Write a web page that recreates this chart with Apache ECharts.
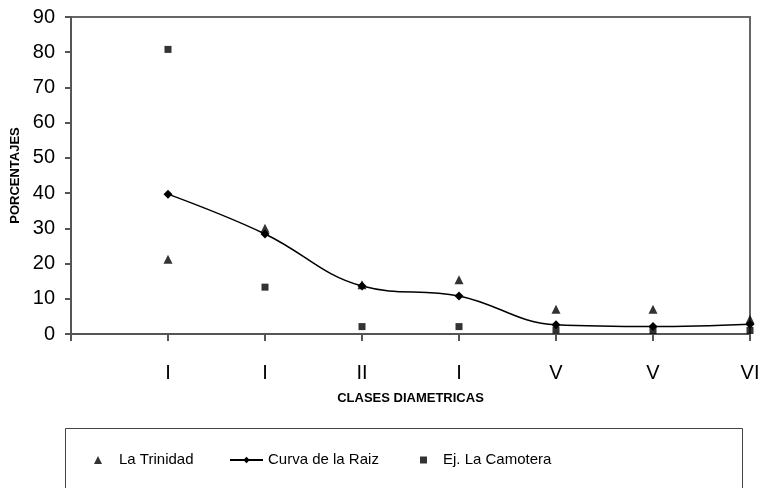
<!DOCTYPE html>
<html>
<head>
<meta charset="utf-8">
<script src="https://cdn.jsdelivr.net/npm/echarts@6/dist/echarts.min.js"></script>
<style>
  html, body { margin: 0; padding: 0; background: #fff; }
  #chart { width: 759px; height: 488px; }
</style>
</head>
<body>
<div id="chart"></div>
<script>
// clases diametricas (etiquetas truncadas como en el original)
const clases = ["I", "I", "II", "I", "V", "V", "VI"];
const trinidad = [21.2, 30.0, 14.0, 15.4, 7.0, 7.0, 4.2];
const curvaRaiz = [39.7, 28.4, 13.6, 10.8, 2.6, 2.1, 2.8];
const camotera = [80.8, 13.3, 2.1, 2.1, 1.1, 1.0, 1.0];
const yTicks = [0, 10, 20, 30, 40, 50, 60, 70, 80, 90];

const font = "'Liberation Sans', Arial, sans-serif";

// empty leading slot so the first class sits one step in from the y axis
const cats = [""].concat(clases);
const pad = arr => [null].concat(arr);

function legendItem(name, left, w, h, textPad) {
  return {
    data: [name],
    left: left,
    top: 452,
    padding: 0,
    itemWidth: w,
    itemHeight: h,
    selectedMode: false,
    textStyle: {
      fontFamily: font, fontSize: 15, color: "#000",
      lineHeight: 16, padding: [0, 0, 0, textPad]
    }
  };
}

const chart = echarts.init(document.getElementById("chart"));
chart.setOption({
  animation: false,
  backgroundColor: "#fff",
  grid: {
    left: 71,
    right: 9,
    top: 17,
    bottom: 154,
    outerBoundsMode: "none",
    containLabel: false,
    show: true,
    borderColor: "#666",
    borderWidth: 2
  },
  graphic: [{
    type: "rect",
    left: 63,
    top: 426,
    shape: { width: 677, height: 80 },
    style: { fill: "none", stroke: "#444", lineWidth: 1 },
    silent: true
  }],
  legend: [
    legendItem("La Trinidad", 94, 8, 8, 12),
    legendItem("Curva de la Raiz", 229, 33, 8, 0),
    legendItem("Ej. La Camotera", 420, 7, 7, 11)
  ],
  xAxis: {
    type: "category",
    data: cats,
    boundaryGap: false,
    name: "CLASES DIAMETRICAS",
    nameLocation: "middle",
    nameGap: 58,
    nameTextStyle: { fontFamily: font, fontSize: 13, fontWeight: "bold", color: "#000" },
    axisLine: { lineStyle: { color: "#555", width: 2 } },
    axisTick: { show: true, length: 7, lineStyle: { color: "#555", width: 2 } },
    axisLabel: { fontFamily: font, fontSize: 20, color: "#000", margin: 29, interval: 0 },
    splitLine: { show: false }
  },
  yAxis: {
    type: "value",
    min: yTicks[0],
    max: yTicks[yTicks.length - 1],
    interval: 10,
    name: "PORCENTAJES",
    nameLocation: "middle",
    nameGap: 48,
    nameRotate: 90,
    nameTextStyle: { fontFamily: font, fontSize: 13, fontWeight: "bold", color: "#000" },
    axisLine: { show: true, lineStyle: { color: "#555", width: 2 } },
    axisTick: { show: true, length: 6, lineStyle: { color: "#555", width: 2 } },
    axisLabel: { fontFamily: font, fontSize: 20, color: "#000", margin: 16 },
    splitLine: { show: false }
  },
  series: [
    {
      name: "La Trinidad",
      type: "scatter",
      data: pad(trinidad),
      symbol: "triangle",
      symbolSize: 9,
      itemStyle: { color: "#000" },
      z: 3
    },
    {
      name: "Curva de la Raiz",
      type: "line",
      data: pad(curvaRaiz),
      smooth: 0.4,
      symbol: "diamond",
      symbolSize: 9,
      showSymbol: true,
      itemStyle: { color: "#000" },
      lineStyle: { color: "#000", width: 1.5 },
      z: 4
    },
    {
      name: "Ej. La Camotera",
      type: "scatter",
      data: pad(camotera),
      symbol: "rect",
      symbolSize: 7,
      itemStyle: { color: "#000" },
      z: 3
    }
  ]
});
</script>
</body>
</html>
